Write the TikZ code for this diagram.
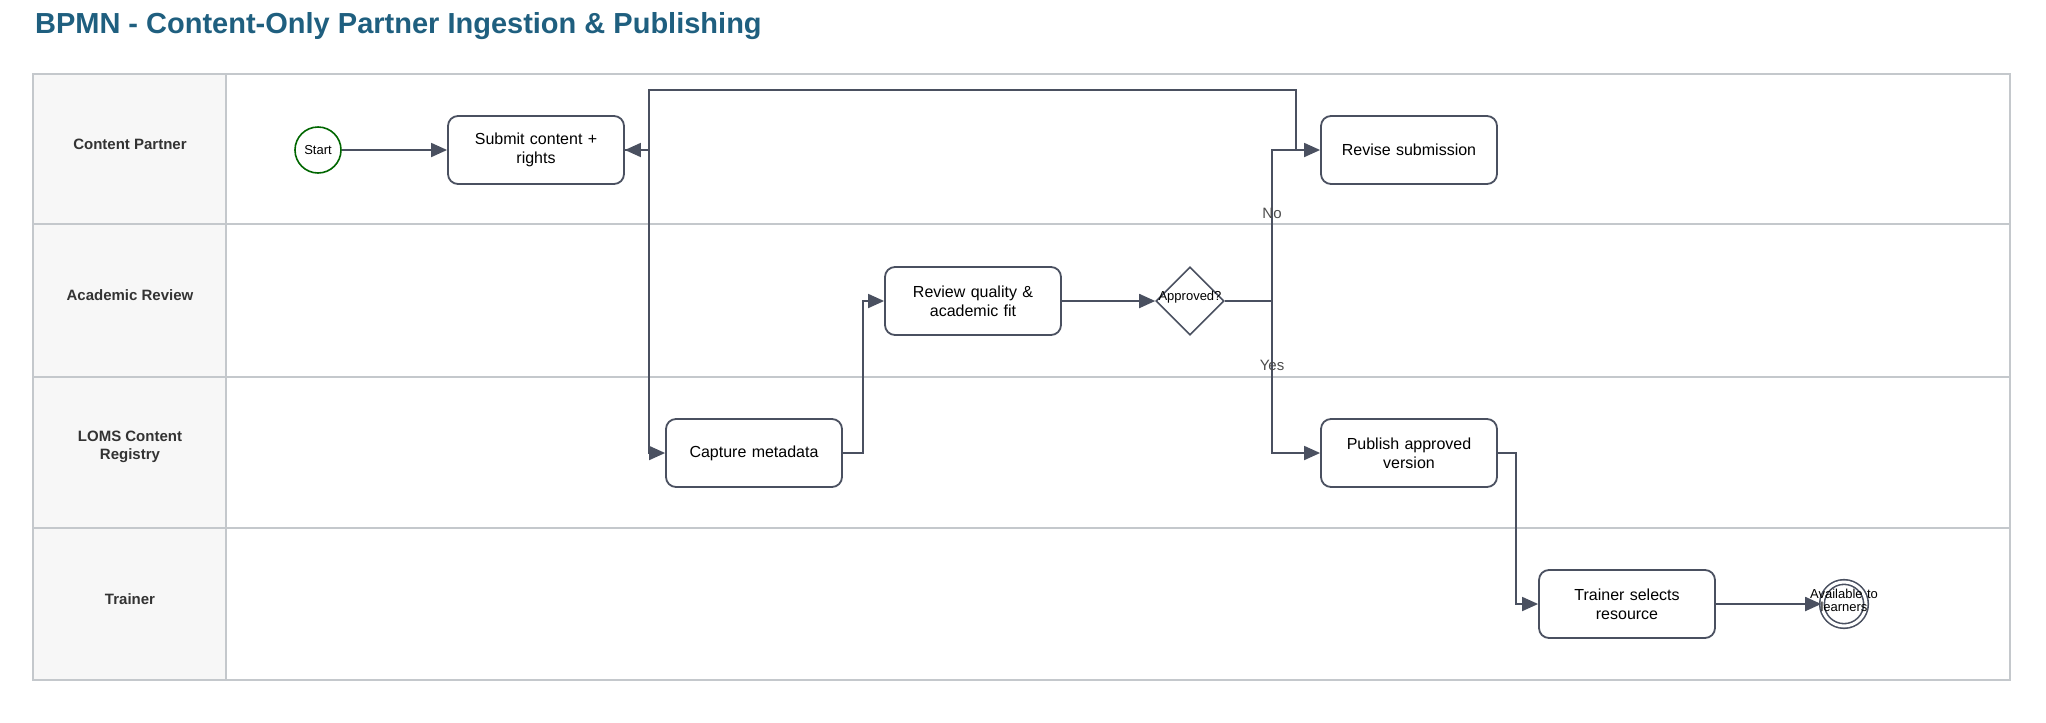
\documentclass[tikz,border=0pt]{standalone}
\usepackage{fontspec}
\setmainfont{Liberation Sans}
\usetikzlibrary{shapes.geometric,arrows.meta}
\definecolor{ln}{HTML}{4A5060}
\definecolor{lane}{HTML}{C4C8CC}
\definecolor{ttl}{HTML}{1F5F7F}
\begin{document}
\begin{tikzpicture}[x=0.5pt,y=-0.5pt,
  task/.style={draw=ln,line width=0.9pt,rounded corners=5pt,minimum width=88pt,minimum height=34pt,align=center,font=\fontsize{8}{9.5}\selectfont,text width=70pt,inner sep=0pt},
  flow/.style={draw=ln,line width=0.9pt,-{Triangle[length=8pt,width=7pt]}},
  lanelbl/.style={font=\bfseries\fontsize{7.5}{9}\selectfont,align=center,text=black!80}]
\useasboundingbox (0,0) rectangle (2046,723);
% title
\node[anchor=west,font=\bfseries\fontsize{14.5}{17}\selectfont,text=ttl] (title) at (28,26) {BPMN - Content-Only Partner Ingestion \& Publishing};
% lanes
\fill[black!3] (33,74) rectangle (226,680);
\draw[lane,line width=0.8pt] (33,74) rectangle (2010,680);
\draw[lane,line width=0.8pt] (226,74) -- (226,680);
\foreach \y in {224,377,528} \draw[lane,line width=0.8pt] (33,\y) -- (2010,\y);
\node[lanelbl] (l1) at (130,144) {Content Partner};
\node[lanelbl] (l2) at (130,295) {Academic Review};
\node[lanelbl] (l3) at (130,447) {LOMS Content\\Registry};
\node[lanelbl] (l4) at (130,599) {Trainer};
% nodes
\node[circle,draw=green!40!black,line width=0.8pt,minimum size=23pt,inner sep=0pt,font=\fontsize{6.5}{7}\selectfont] (start) at (318,150) {Start};
\node[task] (submit) at (536,150) {Submit content +\\rights\\[-4pt]};
\node[task] (revise) at (1409,150) {Revise submission\\[6pt]};
\node[task] (review) at (973,301) {Review quality \&\\academic fit\\[-4pt]};
\node[diamond,draw=ln,line width=0.8pt,minimum size=34pt,inner sep=0pt,font=\fontsize{6.5}{7}\selectfont] (gw) at (1190,301) {};
\node[font=\fontsize{6.5}{7}\selectfont] (gwl) at (1190,297) {Approved?};
\node[task] (capture) at (754,453) {Capture metadata\\[-4pt]};
\node[task] (publish) at (1409,453) {Publish approved\\version\\[-4pt]};
\node[task] (trainer) at (1627,604) {Trainer selects\\resource\\[-4pt]};
\node[circle,draw=ln,line width=0.8pt,double=white,double distance=1.5pt,minimum size=22pt,inner sep=0pt] (end) at (1844,604) {};
\node[font=\fontsize{6.5}{6.5}\selectfont,align=center,text width=40pt] (endl) at (1844,600) {Available to\\learners};
\coordinate (rv) at (1296,150);
% flows
\draw[flow] (start) -- (submit);
\draw[flow] (submit.east) -- (649,150) |- (capture.west);
\draw[flow] (rv) -- (1296,90) -- (649,90) -- (649,150) -- (submit.east);
\draw[flow] (capture.east) -- (863,453) |- (review.west);
\draw[flow] (review) -- (gw);
\draw[flow] (gw.east) -- (1272,301) |- (revise.west);
\draw[flow] (gw.east) -- (1272,301) |- (publish.west);
\draw[flow] (publish.east) -- (1516,453) |- (trainer.west);
\draw[flow] (trainer) -- (end);
\node[font=\fontsize{7.5}{9}\selectfont,text=black!70] (no) at (1272,213) {No};
\node[font=\fontsize{7.5}{9}\selectfont,text=black!70] (yes) at (1272,365) {Yes};
\end{tikzpicture}
\end{document}
